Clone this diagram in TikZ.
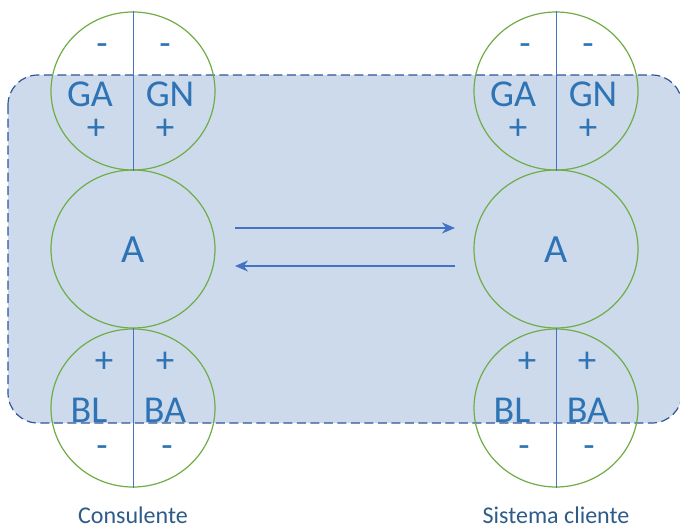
\documentclass[tikz,border=0pt]{standalone}
\usepackage{fontspec}
\setmainfont{Carlito}
\usetikzlibrary{shapes.geometric,arrows.meta}
\definecolor{boxfill}{HTML}{CCDAEC}
\definecolor{boxline}{HTML}{2F5597}
\definecolor{ring}{HTML}{70AD47}
\definecolor{txt}{HTML}{2E74B5}
\definecolor{lbl}{HTML}{2E5C8A}
\definecolor{arr}{HTML}{4472C4}
\tikzset{
  ring/.style={draw=ring, line width=1.2pt, ellipse, minimum width=164pt, minimum height=158pt, inner sep=0pt},
  divider/.style={draw=arr, line width=0.8pt},
  sign/.style={text=txt, font=\fontsize{37}{37}\selectfont, inner sep=0pt},
  big/.style={text=txt, font=\fontsize{38}{38}\selectfont, inner sep=0pt},
  bigger/.style={text=txt, font=\fontsize{40}{40}\selectfont, inner sep=0pt},
  caption/.style={text=lbl, font=\fontsize{24}{24}\selectfont, inner sep=0pt},
  flow/.style={draw=arr, line width=1.8pt, -{Stealth[length=13pt,width=11pt]}},
}
\begin{document}
\begin{tikzpicture}[x=1pt,y=-1pt]
\useasboundingbox (0,0) rectangle (680,530);
\fill[white] (0,0) rectangle (680,530);
\draw[boxline, fill=boxfill, line width=1.2pt, dash pattern=on 9pt off 4.5pt, rounded corners=30pt] (8,75) rectangle (682,423);
% left column
\node[ring] (lt) at (133,91) {};
\node[ring] (lm) at (133,249) {};
\node[ring] (lb) at (133,408) {};
\draw[divider] (lt.north) -- (lt.south);
\draw[divider] (lb.north) -- (lb.south);
% right column
\node[ring] (rt) at (556,91) {};
\node[ring] (rm) at (556,249) {};
\node[ring] (rb) at (556,408) {};
\draw[divider] (rt.north) -- (rt.south);
\draw[divider] (rb.north) -- (rb.south);
% left texts
\node[sign] (l1) at (102,50) {-};
\node[sign] (l2) at (165,50) {-};
\node[big] (lga) at (90,94) {GA};
\node[big] (lgn) at (170,94) {GN};
\node[sign] (l3) at (96,129) {+};
\node[sign] (l4) at (165,129) {+};
\node[bigger] (la) at (133,250) {A};
\node[sign] (l5) at (104,362) {+};
\node[sign] (l6) at (165,362) {+};
\node[big] (lbl) at (89,410) {BL};
\node[big] (lba) at (165,410) {BA};
\node[sign] (l7) at (102,452) {-};
\node[sign] (l8) at (167,452) {-};
% right texts
\node[sign] (r1) at (525,50) {-};
\node[sign] (r2) at (588,50) {-};
\node[big] (rga) at (513,94) {GA};
\node[big] (rgn) at (593,94) {GN};
\node[sign] (r3) at (518,129) {+};
\node[sign] (r4) at (588,129) {+};
\node[bigger] (ra) at (556,250) {A};
\node[sign] (r5) at (527,362) {+};
\node[sign] (r6) at (587,362) {+};
\node[big] (rbl) at (512,410) {BL};
\node[big] (rba) at (588,410) {BA};
\node[sign] (r7) at (524,452) {-};
\node[sign] (r8) at (589,452) {-};
% arrows
\coordinate (a1s) at (235,228);
\coordinate (a1e) at (455,228);
\coordinate (a2s) at (455,266);
\coordinate (a2e) at (235,266);
\draw[flow] (a1s) -- (a1e);
\draw[flow] (a2s) -- (a2e);
% captions
\node[caption] (cl) at (133,515) {Consulente};
\node[caption] (cr) at (556,515) {Sistema cliente};
\end{tikzpicture}
\end{document}
